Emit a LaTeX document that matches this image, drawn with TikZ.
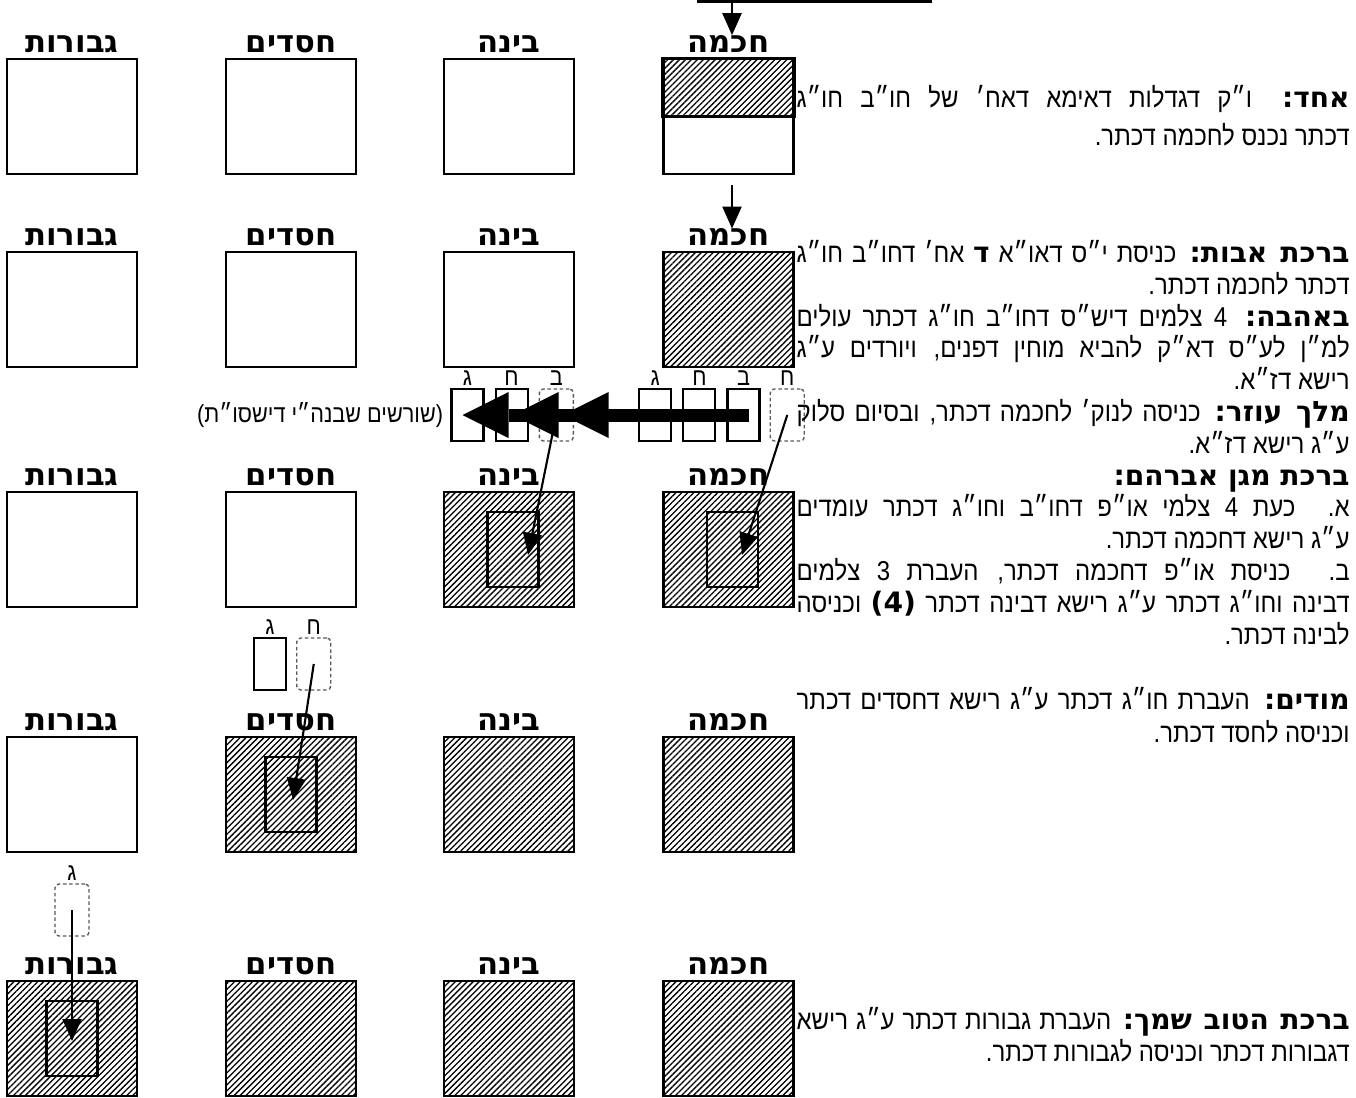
\documentclass[tikz,border=0pt]{standalone}
\usepackage{fontspec}
\setmainfont{Liberation Sans}[Script=Hebrew,FakeStretch=0.88]
\newfontfamily\boldheb{DejaVu Sans}[Script=Hebrew]
\TeXXeTstate=1
\usetikzlibrary{positioning}
\usetikzlibrary{arrows.meta}
\usetikzlibrary{patterns.meta}
\tikzset{>={Triangle[length=4.4mm,width=3.8mm]}}
\newcommand{\rtl}[1]{\beginR#1\endR}
\newcommand{\fl}[1]{\makebox[110.6mm][s]{\beginR#1\endR}}
\newcommand{\hd}[1]{{\boldheb\bfseries\fontsize{16}{0}\selectfont#1}}
\tikzset{
  sefbox/.style={draw,line width=1.2pt,minimum width=26mm,minimum height=23mm,inner sep=0pt},
  hatch/.style={pattern={Lines[angle=45,distance=2.4pt,line width=0.75pt]}},
  sefhatch/.style={sefbox,hatch},
  seflabel/.style={font=\boldheb\bfseries\fontsize{17.5}{17.5}\selectfont,inner sep=0pt},
  inbox/.style={draw,line width=1.2pt,minimum width=10.2mm,minimum height=15mm,inner sep=0pt},
  tsel/.style={draw,line width=1.2pt,minimum width=6.4mm,minimum height=10.4mm,inner sep=0pt},
  dtsel/.style={tsel,minimum width=6.8mm,draw=black!65,line width=0.8pt,dash pattern=on 2pt off 1.5pt,rounded corners=0.8mm},
  tlet/.style={font=\fontsize{14}{14}\selectfont,inner sep=0pt},
  arr/.style={->,line width=1.2pt},
  para/.style={align=right,inner sep=0pt,anchor=north east},
}

\begin{document}
\begin{tikzpicture}[x=0.2mm,y=-0.2mm]
  \useasboundingbox (0,0) rectangle (1356,1097);
  % sefirot
  \foreach \r/\y in {1/116.5,2/309.5,3/549.5,4/794.5,5/1038.5}{
    \foreach \c/\x/\nm in {1/72/גבורות,2/291/חסדים,3/509/בינה,4/728.5/חכמה}{
      \ifnum\numexpr\r+\c\relax>5 \node[sefhatch] (b\r\c) at (\x,\y) {};
      \else \node[sefbox] (b\r\c) at (\x,\y) {};\fi
      \node[seflabel,above=1mm of b\r\c] (L\r\c) {\nm};
    }
  }
  \path[hatch] (b14.north west) rectangle (b14.east);
  \draw[line width=1.2pt] (b14.north west) rectangle (b14.east);
  % inner boxes
  \node[inbox] (i33) at ([xshift=0.8mm]b33.center) {};
  \node[inbox] (i34) at ([xshift=0.8mm]b34.center) {};
  \node[inbox] (i42) at (b42.center) {};
  \node[inbox] (i51) at (b51.center) {};
  % tselamim
  \node[tsel] (rB) at (743.5,415) {};
  \node[tsel,left=2mm of rB] (rH) {};
  \node[tsel,left=2mm of rH] (rG) {};
  \node[dtsel,right=1.8mm of rB] (dH) {};
  \node[tsel] (lG) at (467.5,415) {};
  \node[tsel,right=2mm of lG] (lH) {};
  \node[dtsel,right=2mm of lH] (dB) {};
  \node[tsel] (sG) at (270,664) {};
  \node[dtsel,right=1.8mm of sG] (dH2) {};
  \node[dtsel] (dG) at (72,910) {};
  \foreach \n/\t in {rG/ג,rH/ח,rB/ב,dH/ח,lG/ג,lH/ח,dB/ב,sG/ג,dH2/ח,dG/ג}
    \node[tlet,above=0.5mm of \n] {\t};
  \node[font=\fontsize{14}{14}\selectfont,inner sep=0pt,left=1.4mm of lG] (shor) {\rtl{(שורשים שבנה״י דישסו״ת)}};
  % arrows
  \coordinate (tL) at (697,1.5);
  \coordinate (tR) at (932,1.5);
  \coordinate (tA) at (732,1.5);
  \draw[line width=1.2pt] (tL) -- (tR);
  \draw[arr] (tA) -- (tA |- L14.north);
  \coordinate (tB) at ([yshift=-2mm]b14.south);
  \draw[arr] (tB -| tA) -- (tA |- L24.north);
  \draw[line width=2.6mm,-{Triangle[length=9.2mm,width=9.2mm,line width=0pt,sep=0.8mm] Triangle[length=9.2mm,width=9.2mm,line width=0pt,sep=0.8mm] Triangle[length=9.2mm,width=9.2mm,line width=0pt]}]
    ([xshift=1mm]rB.center) -- ([xshift=-1mm]lG.center);
  \draw[arr] (dH.center) -- ([xshift=1.9mm,yshift=-1.1mm]i34.center);
  \draw[arr] (dB.center) -- ([xshift=3mm,yshift=-1.1mm]i33.center);
  \draw[arr] (dH2.center) -- ([xshift=0.4mm,yshift=-1.1mm]i42.center);
  \draw[arr] (dG.center) -- ([yshift=-0.5mm]i51.center);
  % text
  \node[para,font=\fontsize{15.5}{21.5}\selectfont] (p1) at (1350,85) {%
    \fl{\hd{אחד:} ו״ק דגדלות דאימא דאח׳ של חו״ב חו״ג}\\
    \rtl{דכתר נכנס לחכמה דכתר.}};
  \node[para,font=\fontsize{15.5}{18.1}\selectfont] (p2) at (1350,240) {%
    \fl{\hd{ברכת אבות:} כניסת י״ס דאו״א \hd{ד} אח׳ דחו״ב חו״ג}\\
    \rtl{דכתר לחכמה דכתר.}\\
    \fl{\hd{באהבה:} 4 צלמים דיש״ס דחו״ב חו״ג דכתר עולים}\\
    \fl{למ״ן לע״ס דא״ק להביא מוחין דפנים, ויורדים ע״ג}\\
    \rtl{רישא דז״א.}\\
    \fl{\hd{מלך עוזר:} כניסה לנוק׳ לחכמה דכתר, ובסיום סלוק}\\
    \rtl{ע״ג רישא דז״א.}\\
    \rtl{\hd{ברכת מגן אברהם:}}\\
    \fl{א. כעת 4 צלמי או״פ דחו״ב וחו״ג דכתר עומדים}\\
    \rtl{ע״ג רישא דחכמה דכתר.}\\
    \fl{ב. כניסת או״פ דחכמה דכתר, העברת 3 צלמים}\\
    \fl{דבינה וחו״ג דכתר ע״ג רישא דבינה דכתר \hd{(4)} וכניסה}\\
    \rtl{לבינה דכתר.}};
  \node[para,font=\fontsize{15.5}{18.7}\selectfont] (p3) at (1350,687) {%
    \fl{\hd{מודים:} העברת חו״ג דכתר ע״ג רישא דחסדים דכתר}\\
    \rtl{וכניסה לחסד דכתר.}};
  \node[para,font=\fontsize{15.5}{18.1}\selectfont] (p4) at (1350,1007) {%
    \fl{\hd{ברכת הטוב שמך:} העברת גבורות דכתר ע״ג רישא}\\
    \rtl{דגבורות דכתר וכניסה לגבורות דכתר.}};
\end{tikzpicture}
\end{document}
